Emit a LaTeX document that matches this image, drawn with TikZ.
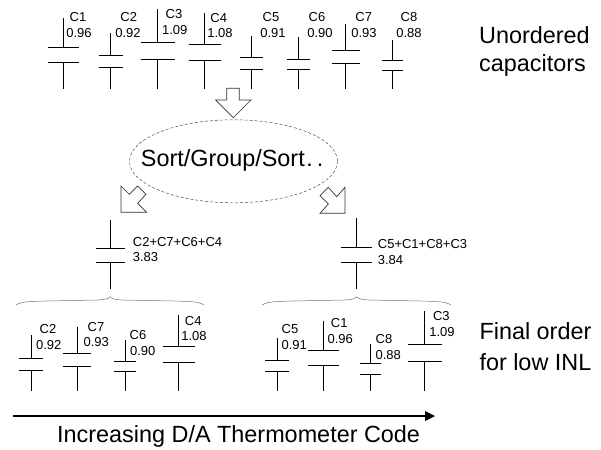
\documentclass[tikz,border=0pt]{standalone}
\usepackage{fontspec}
\setmainfont{Liberation Sans}
\begin{document}
\begin{tikzpicture}[
	x=1pt,
	y=-1pt,
	line cap=butt,
	capwire/.style={line width=1pt,black},
	caplabel/.style={font=\fontsize{13}{14}\selectfont,inner sep=0pt,black},
	bigtext/.style={font=\fontsize{23.4}{26}\selectfont,inner sep=0pt,anchor=west,black},
	blockarrow/.style={draw=black!80,line width=0.7pt,fill=white,line join=miter},
	groupbrace/.style={draw=black!55,line width=0.5pt}
	]
	\useasboundingbox (0,0) rectangle (601,449);
	
	% unordered row
	\foreach \n/\x/\t/\p/\q/\w/\lv/\nx/\ny/\vx/\vy in {
		C1/63.5/18/48/62.5/15.5/0.96/78/17/79/33,
		C2/110.5/33/56/68/12/0.92/128.7/17/128/33,
		C3/157.5/9/42.5/59.5/17/1.09/174/14/174.7/30,
		C4/204.5/13/44.5/60.5/16/1.08/218.7/18/220/33,
		C5/251.5/36/58/69.5/11.5/0.91/271/17/273/33,
		C6/298.5/37.5/59.5/70/11.5/0.90/317/17/320/33,
		C7/345.5/24/51/64/14/0.93/363.7/17/364/33,
		C8/392.5/40.5/61/71/10.5/0.88/409/17/409/33}{
		\draw[capwire] (\x,\t) -- (\x,\p) (\x-\w,\p) -- (\x+\w,\p)
		(\x-\w,\q) -- (\x+\w,\q) (\x,\q) -- (\x,89);
		\node[caplabel] (name\n) at (\nx,\ny) {\n};
		\node[caplabel] (value\n) at (\vx,\vy) {\lv};
	}
	
	\node[bigtext] (unordered) at (479,35) {Unordered};
	\node[bigtext] (capacitors) at (479,65) {capacitors};
	
	\draw[blockarrow] (226.7,88.3) -- (239.3,88.3) -- (239.3,100) -- (251,100)
	-- (233.3,117.7) -- (215.7,100) -- (226.7,100) -- cycle;
	
	\draw[densely dashed,black!70,line width=0.5pt] (233.5,161.3) ellipse (104 and 41.5);
	\node[bigtext] (sort) at (140.7,160.5) {Sort/Group/Sort\kern1.5pt.\kern4pt.};
	
	\draw[blockarrow] (121,186) -- (121,212.3) -- (146.7,212.3) -- (137.7,203.3)
	-- (146,194.3) -- (137.7,186) -- (129.3,194.3) -- cycle;
	\draw[blockarrow] (345,187.3) -- (345,213.3) -- (320,213.3) -- (328.3,204)
	-- (320,195.7) -- (328.3,187.3) -- (336.7,196.7) -- cycle;
	
	% the two groups
	\foreach \n/\lv/\x/\t/\p/\q/\w/\lx/\ny/\vy in {
		C2+C7+C6+C4/3.83/110.3/220/248.7/262.3/14.5/132.7/241.7/257.3,
		C5+C1+C8+C3/3.84/356.7/217.7/247/262/15.7/377.7/244/260.3}{
		\draw[capwire] (\x,\t) -- (\x,\p) (\x-\w,\p) -- (\x+\w,\p)
		(\x-\w,\q) -- (\x+\w,\q) (\x,\q) -- (\x,288.7);
		\node[caplabel,anchor=west] (name\lv) at (\lx,\ny) {\n};
		\node[caplabel,anchor=west] (value\lv) at (\lx,\vy) {\lv};
	}
	
	\foreach \a/\b/\c in {16/110/204,262.3/356.7/451}{
		\draw[groupbrace] (\a,305) .. controls (\a+5,301.5) and (\a+14,301.5) .. (\a+30,301)
		-- (\b-12,300) .. controls (\b-5,299.5) and (\b-2,299) .. (\b,296.7)
		.. controls (\b+2,299) and (\b+5,299.5) .. (\b+12,300)
		-- (\c-30,301) .. controls (\c-14,301.5) and (\c-5,301.5) .. (\c,305);
	}
	
	% final order row
	\foreach \n/\x/\t/\p/\q/\w/\lv/\nx/\ny/\vx/\vy in {
		C2/31/335/358.3/370/12.3/0.92/48/329.3/48.7/345,
		C7/77.3/326.7/353/366.7/14/0.93/96/327.3/96.3/342.3,
		C6/125/340/361.3/371.7/11/0.90/138/335/142.7/351,
		C4/178.7/315.3/346.7/362.3/16/1.08/193.3/320.7/194/336.3,
		C5/277/338.3/360/371/11.7/0.91/290/329.3/294.3/345,
		C1/323.7/320.7/350.3/365/15.3/0.96/339.3/323.3/340.3/339,
		C8/370.7/344/363/374/10.5/0.88/384/338.7/388.3/354.7,
		C3/424.7/311/344.3/361/17/1.09/441.3/316.3/442/332}{
		\draw[capwire] (\x,\t) -- (\x,\p) (\x-\w,\p) -- (\x+\w,\p)
		(\x-\w,\q) -- (\x+\w,\q) (\x,\q) -- (\x,391);
		\node[caplabel] (finalname\n) at (\nx,\ny) {\n};
		\node[caplabel] (finalvalue\n) at (\vx,\vy) {\lv};
	}
	
	\node[bigtext] (final) at (479.3,330.7) {Final order};
	\node[bigtext] (forlow) at (479.3,361.7) {for low INL};
	
	\fill[black] (12.7,415) rectangle (425,417);
	\fill[black] (435,416) -- (425,411) -- (425,421) -- cycle;
	\node[bigtext] (code) at (57,436.7) {Increasing D/A Thermometer Code};
\end{tikzpicture}
\end{document}
